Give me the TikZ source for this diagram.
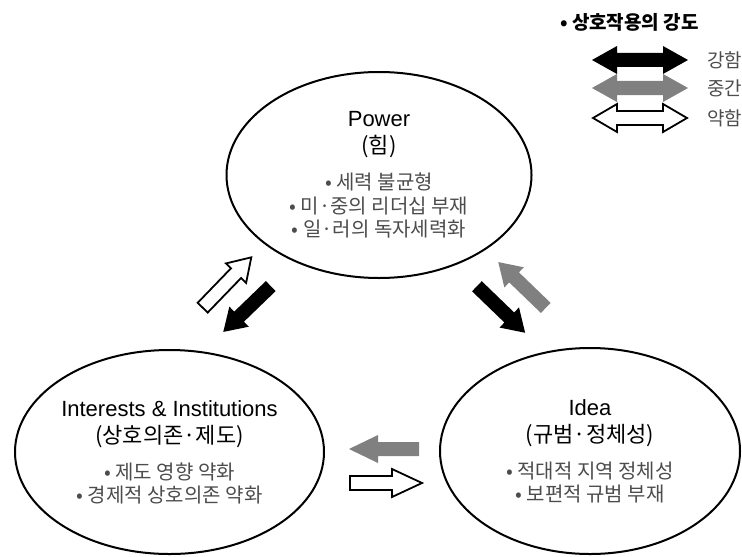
\documentclass[tikz,border=0pt]{standalone}
\usepackage{fontspec}
\setmainfont{Liberation Sans}
\newfontfamily\kr{Noto Sans CJK KR}
\usepackage{xcolor}
\usetikzlibrary{shapes.geometric}
\definecolor{midgray}{gray}{0.5}
\definecolor{txtgray}{gray}{0.3}
\newcommand{\bline}[1]{{\kr\fontsize{10}{11.5}\selectfont\color{txtgray}• #1}}

\tikzset{
  pics/barrow/.style args={#1/#2}{code={
    \path[pic actions] (-#1,-7) -- (#1-#2,-7) -- (#1-#2,-14) -- (#1,0)
      -- (#1-#2,14) -- (#1-#2,7) -- (-#1,7) -- cycle;}},
  pics/darrow/.style args={#1/#2}{code={
    \path[pic actions] (-#1,0) -- (-#1+#2,-14) -- (-#1+#2,-7) -- (#1-#2,-7)
      -- (#1-#2,-14) -- (#1,0) -- (#1-#2,14) -- (#1-#2,7) -- (-#1+#2,7)
      -- (-#1+#2,14) -- cycle;}}
}

\begin{document}
\begin{tikzpicture}[x=0.5pt,y=-0.5pt,
    blob/.style={ellipse,draw,line width=1pt,inner sep=0pt,align=center,
      font=\fontsize{11}{11.5}\selectfont},
    hollow/.style={draw=black,fill=white,line width=0.9pt,line join=miter},
    solid/.style={fill=black},
    grey/.style={fill=midgray},
    lbl/.style={anchor=west,font=\kr\fontsize{9.5}{11}\selectfont,text=txtgray}]
  \useasboundingbox (0,0) rectangle (742,556);

  % the three ellipses
  \node[blob,minimum width=152.5pt,minimum height=103pt] (power) at (379,175)
    {Power\\[2pt]{\kr (힘)}\\[6.5pt]\bline{세력 불균형}\\[0.5pt]
     \bline{미·중의 리더십 부재}\\\bline{일·러의 독자세력화}};
  \node[blob,minimum width=154.5pt,minimum height=102pt] (inter) at (169.5,452)
    {Interests \& Institutions\\[2pt]{\kr (상호의존·제도)}\\[6.5pt]
     \bline{제도 영향 약화}\\\bline{경제적 상호의존 약화}};
  \node[blob,minimum width=150pt,minimum height=103pt] (idea) at (590,451)
    {Idea\\[2pt]{\kr (규범·정체성)}\\[6.5pt]
     \bline{적대적 지역 정체성}\\\bline{보편적 규범 부재}};

  % block arrows between them
  \pic[hollow,rotate=46] (ip) at (227,282.5) {barrow=35/22};
  \pic[solid,rotate=224] (pi) at (247,309) {barrow=33/22};
  \pic[solid,rotate=-44] (pd) at (501,309.5) {barrow=33.5/22};
  \pic[grey,rotate=136] (dp) at (522,285) {barrow=33/22};
  \pic[grey,rotate=180] (di) at (384,449) {barrow=35/29};
  \pic[hollow] (id) at (386,483) {barrow=36/30};

  % legend
  \node[anchor=west,font=\kr\bfseries\fontsize{9.5}{11}\selectfont] (key) at (553,22) {• 상호작용의 강도};
  \pic[solid] (strong) at (640,60) {darrow=48/25};
  \pic[grey] (medium) at (640,88) {darrow=48/25};
  \pic[hollow] (weak) at (640,118) {darrow=47/24};
  \node[lbl] (strongtxt) at (700,60) {강함};
  \node[lbl] (mediumtxt) at (700,88) {중간};
  \node[lbl] (weaktxt) at (700,118) {약함};
\end{tikzpicture}
\end{document}
